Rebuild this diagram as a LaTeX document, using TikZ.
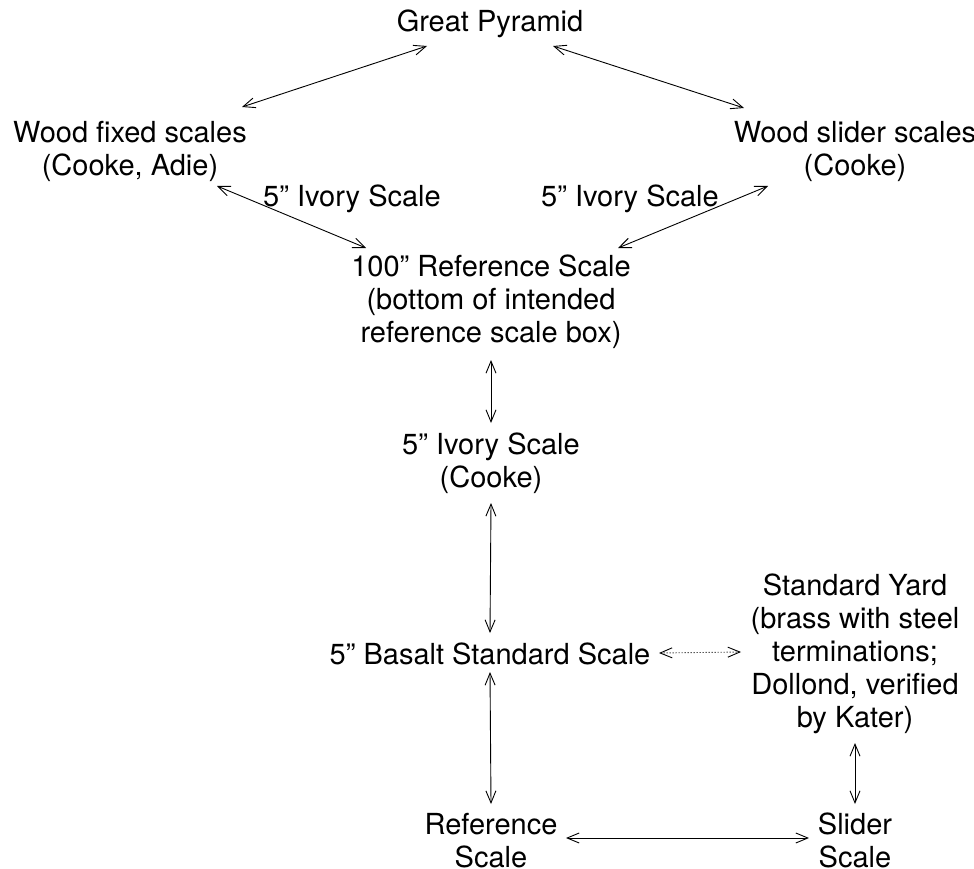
\documentclass[tikz,border=0pt]{standalone}
\usepackage{fontspec}
\setmainfont{TeX Gyre Heros}
\usetikzlibrary{arrows.meta,calc}
\begin{document}
\begin{tikzpicture}[x=1pt,y=-1pt,
  txt/.style={inner sep=0pt,outer sep=0pt,align=center,
    font=\fontsize{29}{33}\selectfont},
  arr/.style={line width=0.9pt,{Straight Barb[length=12pt,width=10pt]}-{Straight Barb[length=12pt,width=10pt]}},
  dotarr/.style={arr,dash pattern=on 1pt off 2pt}]
\useasboundingbox (0,0) rectangle (974,869);
\node[txt] (gp) at (490,25) {\strut Great Pyramid};
\node[txt] (wf) at (130,152) {\strut Wood fixed scales\\\strut (Cooke, Adie)};
\node[txt] (ws) at (855,152) {\strut Wood slider scales\\\strut (Cooke)};
\node[txt] (lab1) at (352,200) {\strut 5” Ivory Scale};
\node[txt] (lab2) at (630,200) {\strut 5” Ivory Scale};
\node[txt] (ref100) at (491,303) {\strut 100” Reference Scale\\\strut (bottom of intended\\\strut reference scale box)};
\node[txt] (ivory) at (491,464) {\strut 5” Ivory Scale\\\strut (Cooke)};
\node[txt] (basalt) at (490,658) {\strut 5” Basalt Standard Scale};
\node[txt] (std) at (855,655) {\strut Standard Yard\\\strut (brass with steel\\\strut terminations;\\\strut Dollond, verified\\\strut by Kater)};
\node[txt] (refs) at (491,844) {\strut Reference\\\strut Scale};
\node[txt] (slider) at (855,844) {\strut Slider\\\strut Scale};

\draw[arr] ($(gp)+(-63,21)$) -- ($(wf)+(112,-45)$);
\draw[arr] ($(gp)+(63,21)$) -- ($(ws)+(-111,-44)$);
\draw[arr] ($(wf)+(87,34)$) -- ($(ref100)+(-125,-55)$);
\draw[arr] ($(ws)+(-87,34)$) -- ($(ref100)+(127,-55)$);
\draw[arr] ($(ref100)+(0,57)$) -- ($(ivory)+(0,-41)$);
\draw[arr] ($(ivory)+(0,39)$) -- ($(basalt)+(0,-25)$);
\draw[arr] ($(basalt)+(0,14)$) -- ($(refs)+(0,-40)$);
\draw[dotarr] ($(basalt)+(169,-5)$) -- ($(std)+(-114,-3)$);
\draw[arr] ($(std)+(0,88)$) -- ($(slider)+(0,-40)$);
\draw[arr] ($(refs)+(75,-6)$) -- ($(slider)+(-46,-6)$);
\end{tikzpicture}
\end{document}
